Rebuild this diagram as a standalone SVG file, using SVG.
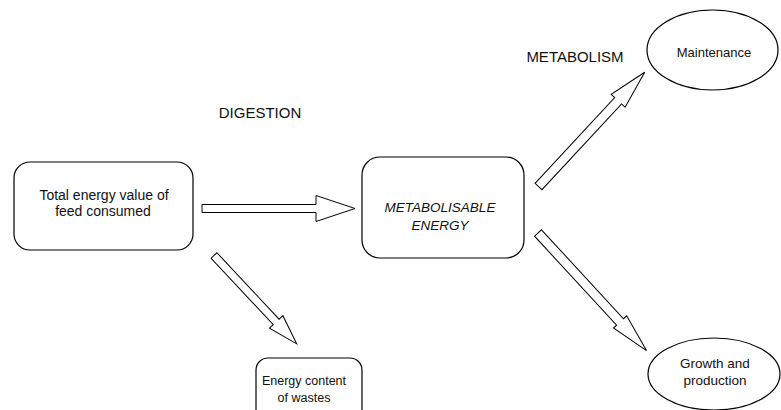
<svg xmlns="http://www.w3.org/2000/svg" width="781" height="410" viewBox="0 0 781 410">
<style>
.box{fill:#fff;stroke:#000;stroke-width:1.2}
.arr{fill:#fff;stroke:#000;stroke-width:1}
text{font-family:"Liberation Sans",Arial,sans-serif;fill:#111;text-anchor:middle}
.lbl{font-size:15px}
</style>
<rect width="781" height="410" fill="#fff"/>
<text class="lbl" x="260" y="118">DIGESTION</text>
<text class="lbl" x="575" y="62">METABOLISM</text>
<g id="feed">
<rect class="box" x="14" y="162" width="179" height="88" rx="16"/>
<text x="104" y="200" font-size="14">Total energy value of</text>
<text x="103" y="216" font-size="14">feed consumed</text>
</g>
<g id="me">
<rect class="box" x="362" y="157" width="162" height="101" rx="18"/>
<text x="440" y="212" font-size="13.5" font-style="italic">METABOLISABLE</text>
<text x="440" y="230" font-size="13.5" font-style="italic">ENERGY</text>
</g>
<g id="wastes">
<rect class="box" x="256" y="358" width="106" height="70" rx="12"/>
<text x="304" y="385" font-size="12.5">Energy content</text>
<text x="304" y="402" font-size="12.5">of wastes</text>
</g>
<g id="maintenance">
<ellipse class="box" cx="712.5" cy="50" rx="65.5" ry="40"/>
<text x="714" y="57" font-size="13">Maintenance</text>
</g>
<g id="growth">
<ellipse class="box" cx="714" cy="374" rx="66" ry="36"/>
<text x="715" y="368" font-size="13.5">Growth and</text>
<text x="715" y="385" font-size="13.5">production</text>
</g>
<g id="connectors">
<polygon class="arr" transform="translate(202,208.5)" points="0,-4 114,-4 114,-13 153,0 114,13 114,4 0,4"/>
<polygon class="arr" transform="translate(538.5,186.5) rotate(-47.1)" points="0,-4.7 117,-4.7 117,-9.5 156,0 117,9.5 117,4.7 0,4.7"/>
<polygon class="arr" transform="translate(538,233) rotate(47.3)" points="0,-4.7 121,-4.7 121,-9 160,0 121,9 121,4.7 0,4.7"/>
<polygon class="arr" transform="translate(214,255.5) rotate(46.9)" points="0,-4 91,-4 91,-9.2 121,0 91,9.2 91,4 0,4"/>
</g>
</svg>
